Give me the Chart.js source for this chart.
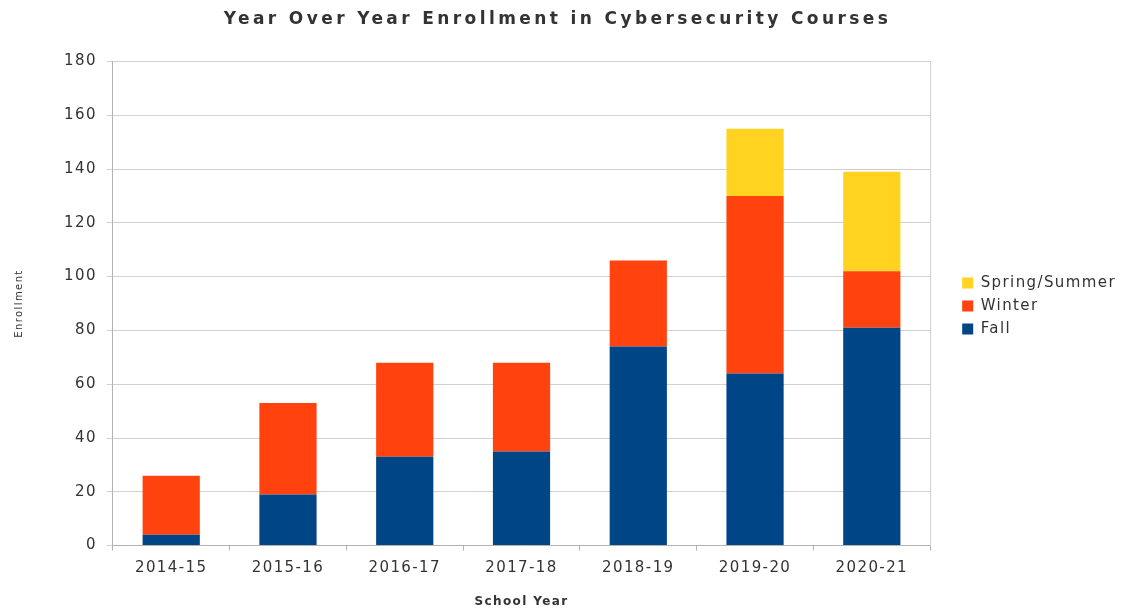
<!DOCTYPE html>
<html lang="en">
<head>
    <meta charset="UTF-8">
    <title>Year Over Year Enrollment in Cybersecurity Courses</title>
    <script src="https://cdn.jsdelivr.net/npm/chart.js"></script>
    <style>
        body {
            margin: 0;
            padding: 0;
            background-color: #fff;
        }
        canvas {
            display: block;
        }
    </style>
</head>
<body>
    <canvas id="enrollmentChart" width="1127" height="609"></canvas>

    <script>
        var years = ['2014-15', '2015-16', '2016-17', '2017-18', '2018-19', '2019-20', '2020-21'];
        var fall = [4, 19, 33, 35, 74, 64, 81];
        var winter = [22, 34, 35, 33, 32, 66, 21];
        var springSummer = [0, 0, 0, 0, 0, 25, 37];
        var yTicks = [0, 20, 40, 60, 80, 100, 120, 140, 160, 180];

        var fontFamily = "'DejaVu Sans', Verdana, sans-serif";
        var textColor = '#333333';
        var textSpacing = '1.4px';
        var titleSpacing = '3.4px';

        // the original chart uses wide lettering, canvas letterSpacing gets close to it
        var wideText = {
            id: 'wideText',
            afterInit: function (chart) {
                var title = chart.titleBlock;
                var drawTitle = title.draw;
                title.draw = function () {
                    chart.ctx.letterSpacing = titleSpacing;
                    drawTitle.apply(this, arguments);
                    chart.ctx.letterSpacing = textSpacing;
                };
            },
            beforeUpdate: function (chart) {
                chart.ctx.letterSpacing = textSpacing;
            },
            afterLayout: function (chart) {
                // leave a gap between plot and legend like the original
                chart.legend.left += 24;
                chart.legend.right += 24;
                chart.legend.top -= 3;
                chart.legend.bottom -= 3;
            },
            beforeDraw: function (chart) {
                chart.ctx.letterSpacing = textSpacing;
            }
        };

        var ctx = document.getElementById('enrollmentChart').getContext('2d');
        var chart = new Chart(ctx, {
            type: 'bar',
            data: {
                labels: years,
                datasets: [{
                    label: 'Fall',
                    data: fall,
                    backgroundColor: '#004586'
                }, {
                    label: 'Winter',
                    data: winter,
                    backgroundColor: '#ff420e'
                }, {
                    label: 'Spring/Summer',
                    data: springSummer,
                    backgroundColor: '#ffd320'
                }]
            },
            options: {
                responsive: false,
                animation: false,
                layout: {
                    padding: { left: 13, right: 25, top: 9, bottom: 0 }
                },
                datasets: {
                    bar: {
                        barPercentage: 0.49,
                        categoryPercentage: 1.0,
                        borderWidth: 0
                    }
                },
                plugins: {
                    title: {
                        display: true,
                        text: 'Year Over Year Enrollment in Cybersecurity Courses',
                        color: textColor,
                        font: { family: fontFamily, size: 17, weight: 'bold' },
                        padding: { top: 0, bottom: 32 }
                    },
                    legend: {
                        position: 'right',
                        reverse: true,
                        labels: {
                            color: textColor,
                            font: { family: fontFamily, size: 15 },
                            boxWidth: 11,
                            boxHeight: 11,
                            padding: 8
                        }
                    },
                    tooltip: { enabled: false }
                },
                scales: {
                    x: {
                        stacked: true,
                        offset: true,
                        grid: {
                            offset: true,
                            drawOnChartArea: false,
                            color: '#b3b3b3',
                            tickLength: 5
                        },
                        border: { color: '#b3b3b3' },
                        ticks: {
                            color: textColor,
                            font: { family: fontFamily, size: 15 },
                            padding: 9
                        },
                        title: {
                            display: true,
                            text: 'School Year',
                            color: textColor,
                            font: { family: fontFamily, size: 12, weight: 'bold' },
                            padding: { top: 8, bottom: 0 }
                        }
                    },
                    y: {
                        stacked: true,
                        min: 0,
                        max: 180,
                        afterBuildTicks: function (axis) {
                            axis.ticks = yTicks.map(function (v) { return { value: v }; });
                        },
                        grid: {
                            color: '#d0d0d0',
                            tickLength: 6
                        },
                        border: { color: '#b3b3b3' },
                        ticks: {
                            color: textColor,
                            font: { family: fontFamily, size: 15 },
                            padding: 10
                        },
                        title: {
                            display: true,
                            text: 'Enrollment',
                            color: textColor,
                            font: { family: fontFamily, size: 10 },
                            padding: { top: 0, bottom: 29 }
                        }
                    },
                    yRight: {
                        position: 'right',
                        min: 0,
                        max: 180,
                        afterBuildTicks: function (axis) {
                            axis.ticks = yTicks.map(function (v) { return { value: v }; });
                        },
                        grid: { drawOnChartArea: false, drawTicks: false },
                        border: { color: '#d0d0d0' },
                        ticks: { display: false }
                    }
                }
            },
            plugins: [wideText]
        });
    </script>
</body>
</html>
